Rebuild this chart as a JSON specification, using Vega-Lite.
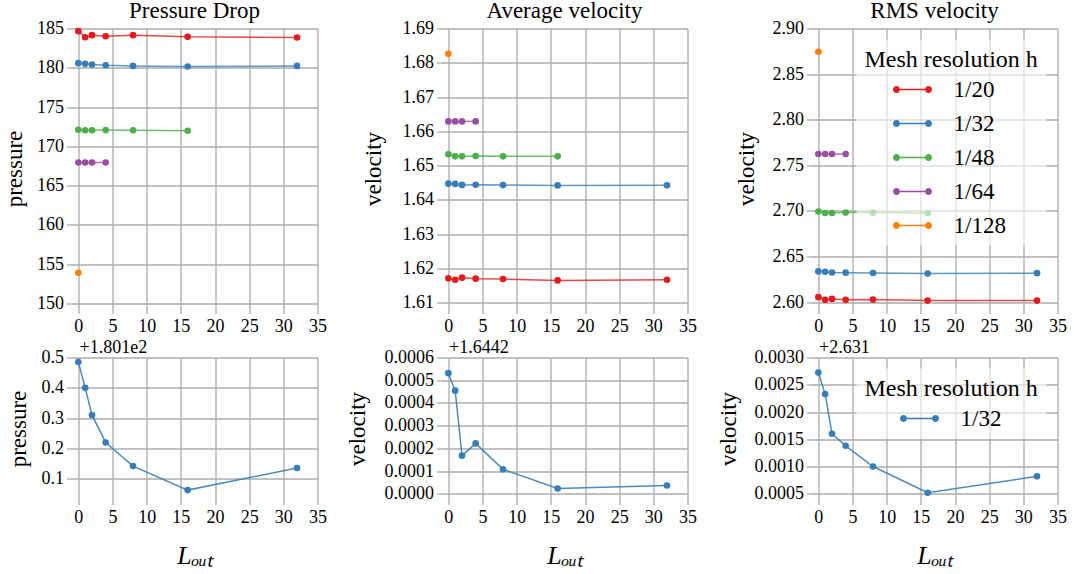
{
  "$schema": "https://vega.github.io/schema/vega-lite/v6.json",
  "background": "white",
  "padding": {"left": 3.5, "top": -0.5, "right": 4, "bottom": 4},
  "config": {
    "font": "Liberation Serif",
    "view": {"stroke": null},
    "axis": {
      "domain": false,
      "grid": true,
      "gridColor": "#ababab",
      "gridWidth": 1.3,
      "tickColor": "#ababab",
      "tickWidth": 1.3,
      "tickSize": 5,
      "labelFont": "Liberation Serif",
      "labelFontSize": 18,
      "labelColor": "#000000",
      "labelPadding": 3,
      "labelFlush": false,
      "labelOverlap": false,
      "titleFont": "Liberation Serif",
      "titleFontSize": 23,
      "titleFontWeight": "normal",
      "titleColor": "#000000",
      "titlePadding": 12
    },
    "title": {
      "font": "Liberation Serif",
      "fontSize": 23,
      "fontWeight": "normal",
      "color": "#000000",
      "anchor": "middle",
      "frame": "group",
      "baseline": "alphabetic",
      "offset": -3
    },
    "legend": {
      "titleFont": "Liberation Serif",
      "titleFontSize": 24,
      "titleFontWeight": "normal",
      "titleColor": "#000000",
      "labelFont": "Liberation Serif",
      "labelFontSize": 23,
      "labelColor": "#000000"
    }
  },
  "datasets": {
    "runs": [
      {"h": "1/20", "L": 0, "pressure": 184.66, "avg": 1.6171, "rms": 2.6055},
      {"h": "1/20", "L": 1, "pressure": 183.89, "avg": 1.6167, "rms": 2.6026},
      {"h": "1/20", "L": 2, "pressure": 184.15, "avg": 1.6173, "rms": 2.6036},
      {"h": "1/20", "L": 4, "pressure": 184.02, "avg": 1.6170, "rms": 2.6026},
      {"h": "1/20", "L": 8, "pressure": 184.15, "avg": 1.6169, "rms": 2.6029},
      {"h": "1/20", "L": 16, "pressure": 183.94, "avg": 1.6165, "rms": 2.6018},
      {"h": "1/20", "L": 32, "pressure": 183.85, "avg": 1.6167, "rms": 2.6018},
      {"h": "1/32", "L": 0, "pressure": 180.585, "avg": 1.644731, "rms": 2.633723},
      {"h": "1/32", "L": 1, "pressure": 180.5, "avg": 1.644654, "rms": 2.633329},
      {"h": "1/32", "L": 2, "pressure": 180.41, "avg": 1.644368, "rms": 2.632602},
      {"h": "1/32", "L": 4, "pressure": 180.32, "avg": 1.644422, "rms": 2.63238},
      {"h": "1/32", "L": 8, "pressure": 180.242, "avg": 1.644308, "rms": 2.632},
      {"h": "1/32", "L": 16, "pressure": 180.163, "avg": 1.6442234, "rms": 2.631518},
      {"h": "1/32", "L": 32, "pressure": 180.236, "avg": 1.6442366, "rms": 2.63182},
      {"h": "1/48", "L": 0, "pressure": 172.11, "avg": 1.6533, "rms": 2.6993},
      {"h": "1/48", "L": 1, "pressure": 172.05, "avg": 1.6527, "rms": 2.6978},
      {"h": "1/48", "L": 2, "pressure": 172.05, "avg": 1.6527, "rms": 2.6978},
      {"h": "1/48", "L": 4, "pressure": 172.07, "avg": 1.6528, "rms": 2.6982},
      {"h": "1/48", "L": 8, "pressure": 172.05, "avg": 1.6527, "rms": 2.6982},
      {"h": "1/48", "L": 16, "pressure": 171.98, "avg": 1.6527, "rms": 2.6978},
      {"h": "1/64", "L": 0, "pressure": 167.94, "avg": 1.6629, "rms": 2.7624},
      {"h": "1/64", "L": 1, "pressure": 167.94, "avg": 1.6629, "rms": 2.7624},
      {"h": "1/64", "L": 2, "pressure": 167.94, "avg": 1.6629, "rms": 2.7624},
      {"h": "1/64", "L": 4, "pressure": 167.94, "avg": 1.6629, "rms": 2.7624},
      {"h": "1/128", "L": 0, "pressure": 153.9, "avg": 1.6826, "rms": 2.8745}
    ]
  },
  "bounds": "flush",
  "spacing": 370,
  "resolve": {"scale": {"x": "independent", "y": "independent", "color": "independent"}, "legend": {"color": "independent"}},
  "hconcat": [
    {
      "bounds": "flush",
      "spacing": 49,
      "resolve": {"scale": {"x": "independent", "y": "independent", "color": "independent"}, "legend": {"color": "independent"}},
      "vconcat": [
        {
          "width": 246, "height": 280,
          "title": {"text": "Pressure Drop"},
          "data": {"name": "runs"},
          "encoding": {
            "x": {"field": "L", "type": "quantitative", "scale": {"domain": [-1, 35], "nice": false, "zero": false}, "axis": {"values": [0, 5, 10, 15, 20, 25, 30, 35], "title": null, "labelPadding": 4}},
            "y": {"field": "pressure", "type": "quantitative", "scale": {"domain": [149.36, 185], "nice": false, "zero": false}, "axis": {"values": [150, 155, 160, 165, 170, 175, 180, 185], "format": "d", "title": "pressure", "titlePadding": 10}},
            "color": {"field": "h", "type": "nominal", "scale": {"domain": ["1/20", "1/32", "1/48", "1/64", "1/128"], "range": ["#e41a1c", "#377eb8", "#4daf4a", "#984ea3", "#ff7f00"]}, "legend": null}
          },
          "layer": [
            {"mark": {"type": "line", "strokeWidth": 1.5, "opacity": 0.8}},
            {"mark": {"type": "point", "filled": true, "size": 44, "opacity": 1}}
          ]
        },
        {
          "width": 246, "height": 142,
          "data": {"name": "runs"},
          "transform": [{"filter": "datum.h === '1/32'"}],
          "encoding": {
            "y": {"field": "pressure", "type": "quantitative", "scale": {"domain": [180.132, 180.6], "nice": false, "zero": false}, "axis": {"values": [180.2, 180.3, 180.4, 180.5, 180.6], "labelExpr": "format(datum.value - 180.1, '.1f')", "title": "pressure", "titlePadding": 10.5}},
            "color": {"field": "h", "type": "nominal", "scale": {"domain": ["1/32"], "range": ["#377eb8"]}, "legend": null}
          },
          "resolve": {"axis": {"x": "independent"}},
          "layer": [
            {
              "mark": {"type": "line", "strokeWidth": 1.5, "opacity": 0.9},
              "encoding": {"x": {"field": "L", "type": "quantitative", "scale": {"domain": [-1, 35], "nice": false, "zero": false}, "axis": {"values": [0, 5, 10, 15, 20, 25, 30, 35], "title": "Lₒᵤₜ", "titleFontSize": 26, "titleFontStyle": "italic", "titlePadding": 16, "labelPadding": 4}}}
            },
            {
              "mark": {"type": "point", "filled": true, "size": 44, "opacity": 1},
              "encoding": {"x": {"field": "L", "type": "quantitative", "scale": {"domain": [-1, 35], "nice": false, "zero": false}, "axis": {"orient": "top", "title": "+1.801e2", "labels": false, "ticks": false, "grid": false, "domain": false, "minExtent": 0, "maxExtent": 0, "titleFontSize": 18, "titleAnchor": "start", "titleAlign": "left", "titleBaseline": "alphabetic", "titleX": 7.5, "titleY": -5.3}}}
            }
          ]
        }
      ]
    },
    {
      "bounds": "flush",
      "spacing": 49,
      "resolve": {"scale": {"x": "independent", "y": "independent", "color": "independent"}, "legend": {"color": "independent"}},
      "vconcat": [
        {
          "width": 246, "height": 280,
          "title": {"text": "Average velocity"},
          "data": {"name": "runs"},
          "encoding": {
            "x": {"field": "L", "type": "quantitative", "scale": {"domain": [-1, 35], "nice": false, "zero": false}, "axis": {"values": [0, 5, 10, 15, 20, 25, 30, 35], "title": null, "labelPadding": 4}},
            "y": {"field": "avg", "type": "quantitative", "scale": {"domain": [1.6083, 1.69], "nice": false, "zero": false}, "axis": {"values": [1.61, 1.62, 1.63, 1.64, 1.65, 1.66, 1.67, 1.68, 1.69], "format": ".2f", "title": "velocity", "titlePadding": 17}},
            "color": {"field": "h", "type": "nominal", "scale": {"domain": ["1/20", "1/32", "1/48", "1/64", "1/128"], "range": ["#e41a1c", "#377eb8", "#4daf4a", "#984ea3", "#ff7f00"]}, "legend": null}
          },
          "layer": [
            {"mark": {"type": "line", "strokeWidth": 1.5, "opacity": 0.8}},
            {"mark": {"type": "point", "filled": true, "size": 44, "opacity": 1}}
          ]
        },
        {
          "width": 246, "height": 142,
          "data": {"name": "runs"},
          "transform": [{"filter": "datum.h === '1/32'"}],
          "encoding": {
            "y": {"field": "avg", "type": "quantitative", "scale": {"domain": [1.644175, 1.6448], "nice": false, "zero": false}, "axis": {"values": [1.6442, 1.6443, 1.6444, 1.6445, 1.6446, 1.6447, 1.6448], "labelExpr": "format(datum.value - 1.6442, '.4f')", "title": "velocity", "titlePadding": 15}},
            "color": {"field": "h", "type": "nominal", "scale": {"domain": ["1/32"], "range": ["#377eb8"]}, "legend": null}
          },
          "resolve": {"axis": {"x": "independent"}},
          "layer": [
            {
              "mark": {"type": "line", "strokeWidth": 1.5, "opacity": 0.9},
              "encoding": {"x": {"field": "L", "type": "quantitative", "scale": {"domain": [-1, 35], "nice": false, "zero": false}, "axis": {"values": [0, 5, 10, 15, 20, 25, 30, 35], "title": "Lₒᵤₜ", "titleFontSize": 26, "titleFontStyle": "italic", "titlePadding": 16, "labelPadding": 4}}}
            },
            {
              "mark": {"type": "point", "filled": true, "size": 44, "opacity": 1},
              "encoding": {"x": {"field": "L", "type": "quantitative", "scale": {"domain": [-1, 35], "nice": false, "zero": false}, "axis": {"orient": "top", "title": "+1.6442", "labels": false, "ticks": false, "grid": false, "domain": false, "minExtent": 0, "maxExtent": 0, "titleFontSize": 18, "titleAnchor": "start", "titleAlign": "left", "titleBaseline": "alphabetic", "titleX": 7, "titleY": -5.3}}}
            }
          ]
        }
      ]
    },
    {
      "bounds": "flush",
      "spacing": 49,
      "resolve": {"scale": {"x": "independent", "y": "independent", "color": "independent"}, "legend": {"color": "independent"}},
      "vconcat": [
        {
          "width": 246, "height": 280,
          "title": {"text": "RMS velocity"},
          "data": {"name": "runs"},
          "encoding": {
            "x": {"field": "L", "type": "quantitative", "scale": {"domain": [-1, 35], "nice": false, "zero": false}, "axis": {"values": [0, 5, 10, 15, 20, 25, 30, 35], "title": null, "labelPadding": 4}},
            "y": {"field": "rms", "type": "quantitative", "scale": {"domain": [2.5931, 2.9], "nice": false, "zero": false}, "axis": {"values": [2.6, 2.65, 2.7, 2.75, 2.8, 2.85, 2.9], "format": ".2f", "title": "velocity", "titlePadding": 14}}
          },
          "resolve": {"scale": {"color": "independent"}, "legend": {"color": "independent"}},
          "layer": [
            {"mark": {"type": "line", "strokeWidth": 1.5, "opacity": 0.8}, "encoding": {"color": {"field": "h", "type": "nominal", "scale": {"domain": ["1/20", "1/32", "1/48", "1/64", "1/128"], "range": ["#e41a1c", "#377eb8", "#4daf4a", "#984ea3", "#ff7f00"]}, "legend": null}}},
            {"mark": {"type": "point", "filled": true, "size": 44, "opacity": 1}, "encoding": {"color": {"field": "h", "type": "nominal", "scale": {"domain": ["1/20", "1/32", "1/48", "1/64", "1/128"], "range": ["#e41a1c", "#377eb8", "#4daf4a", "#984ea3", "#ff7f00"]}, "legend": {"title": "Mesh resolution h", "orient": "top-right", "offset": 11, "padding": 8, "fillColor": "rgba(255,255,255,0.6)", "titlePadding": 2, "symbolType": "M-0.78,-0.047L0.78,-0.047L0.78,0.047L-0.78,0.047Z M-1.22,0A0.22,0.22 0 1,0 -0.78,0A0.22,0.22 0 1,0 -1.22,0Z M0.78,0A0.22,0.22 0 1,0 1.22,0A0.22,0.22 0 1,0 0.78,0Z", "symbolSize": 1024, "symbolStrokeWidth": 0, "symbolOffset": 32, "labelOffset": 25, "rowPadding": 6}}}}
          ]
        },
        {
          "width": 246, "height": 142,
          "data": {"name": "runs"},
          "transform": [{"filter": "datum.h === '1/32'"}],
          "encoding": {
            "y": {"field": "rms", "type": "quantitative", "scale": {"domain": [2.631395, 2.634], "nice": false, "zero": false}, "axis": {"values": [2.6315, 2.632, 2.6325, 2.633, 2.6335, 2.634], "labelExpr": "format(datum.value - 2.631, '.4f')", "title": "velocity", "titlePadding": 13.5}}
          },
          "resolve": {"axis": {"x": "independent"}, "scale": {"color": "independent"}, "legend": {"color": "independent"}},
          "layer": [
            {
              "mark": {"type": "line", "strokeWidth": 1.5, "opacity": 0.9},
              "encoding": {
                "x": {"field": "L", "type": "quantitative", "scale": {"domain": [-1, 35], "nice": false, "zero": false}, "axis": {"values": [0, 5, 10, 15, 20, 25, 30, 35], "title": "Lₒᵤₜ", "titleFontSize": 26, "titleFontStyle": "italic", "titlePadding": 16, "labelPadding": 4}},
                "color": {"field": "h", "type": "nominal", "scale": {"domain": ["1/32"], "range": ["#377eb8"]}, "legend": null}
              }
            },
            {
              "mark": {"type": "point", "filled": true, "size": 44, "opacity": 1},
              "encoding": {
                "x": {"field": "L", "type": "quantitative", "scale": {"domain": [-1, 35], "nice": false, "zero": false}, "axis": {"orient": "top", "title": "+2.631", "labels": false, "ticks": false, "grid": false, "domain": false, "minExtent": 0, "maxExtent": 0, "titleFontSize": 18, "titleAnchor": "start", "titleAlign": "left", "titleBaseline": "alphabetic", "titleX": 7, "titleY": -5.3}},
                "color": {"field": "h", "type": "nominal", "scale": {"domain": ["1/32"], "range": ["#377eb8"]}, "legend": {"title": "Mesh resolution h", "orient": "top-right", "offset": 11, "padding": 8, "fillColor": "rgba(255,255,255,0.6)", "titlePadding": 2, "symbolType": "M-0.78,-0.047L0.78,-0.047L0.78,0.047L-0.78,0.047Z M-1.22,0A0.22,0.22 0 1,0 -0.78,0A0.22,0.22 0 1,0 -1.22,0Z M0.78,0A0.22,0.22 0 1,0 1.22,0A0.22,0.22 0 1,0 0.78,0Z", "symbolSize": 1024, "symbolStrokeWidth": 0, "symbolOffset": 39, "labelOffset": 25, "rowPadding": 6}}
              }
            }
          ]
        }
      ]
    }
  ]
}
